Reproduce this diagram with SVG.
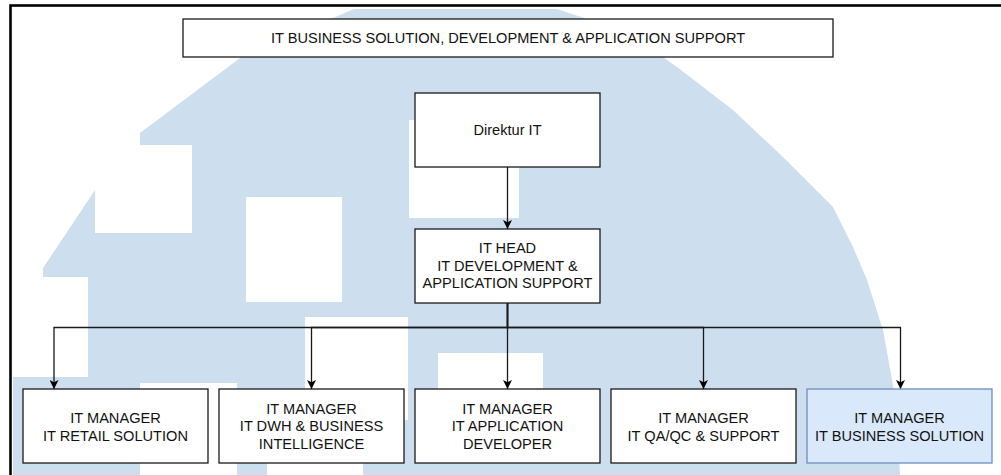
<svg xmlns="http://www.w3.org/2000/svg" width="1001" height="475" viewBox="0 0 1001 475">
  <style>
    .box { fill: #ffffff; stroke: #1a1a1a; stroke-width: 1.3; }
    .hl { fill: #dae8fc; stroke: #6c8ebf; stroke-width: 1.3; }
    .t { font-family: "Liberation Sans", Arial, sans-serif; font-size: 14.6px; fill: #111111; text-anchor: middle; }
    .edge { fill: none; stroke: #1a1a1a; stroke-width: 1.3; }
    .wm { fill: #cddfef; }
    .cut { fill: #ffffff; }
  </style>
  <defs>
    <marker id="arrow" viewBox="0 0 10 10" refX="10" refY="5" markerWidth="9" markerHeight="9" markerUnits="userSpaceOnUse" orient="auto">
      <path d="M0,0 L10,5 L0,10 L2.5,5 Z" fill="#000000"/>
    </marker>
  </defs>

  <rect x="0" y="0" width="1001" height="475" fill="#ffffff"/>

  <g id="watermark">
    <path class="wm" d="M354,9 L557,9 L620,30 L663,57 L677,67 L733,110 L783,157 L833,207 L853,247 L867,280 L883,330 L893,385 L898,425 L900,475 L13,475 L13,377 L88,377 L88,277 L43,277 L43,268 L95,190 L95,233 L192,233 L192,145 L140,145 L140,133 L240,58 Z"/>
    <rect class="cut" x="246" y="197" width="96" height="105"/>
    <rect class="cut" x="305" y="317" width="103" height="103"/>
    <rect class="cut" x="438" y="353" width="105" height="40"/>
    <rect class="cut" x="140" y="383" width="97" height="92"/>
    <rect class="cut" x="267" y="430" width="96" height="45"/>
    <rect class="cut" x="409" y="120" width="110" height="98"/>
  </g>

  <rect x="10.5" y="5.5" width="1000" height="480" fill="none" stroke="#000000" stroke-width="2.6"/>

  <g id="connectors">
    <line class="edge" x1="507.5" y1="167" x2="507.5" y2="229" marker-end="url(#arrow)"/>
    <path class="edge" d="M507.5,303 V327.5 H54 V389" marker-end="url(#arrow)"/>
    <path class="edge" d="M507.5,303 V327.5 H311.5 V389" marker-end="url(#arrow)"/>
    <path class="edge" d="M507.5,303 V389" marker-end="url(#arrow)"/>
    <path class="edge" d="M507.5,303 V327.5 H703.5 V389" marker-end="url(#arrow)"/>
    <path class="edge" d="M507.5,303 V327.5 H900.5 V389" marker-end="url(#arrow)"/>
  </g>

  <g id="title">
    <rect class="box" x="183" y="19" width="650" height="38"/>
    <text class="t" x="508" y="43">IT BUSINESS SOLUTION, DEVELOPMENT &amp; APPLICATION SUPPORT</text>
  </g>

  <g id="direktur">
    <rect class="box" x="415" y="93" width="185" height="74"/>
    <text class="t" x="507.5" y="135">Direktur IT</text>
  </g>

  <g id="head">
    <rect class="box" x="415" y="229" width="185" height="74"/>
    <text class="t" x="507.5" y="253">IT HEAD</text>
    <text class="t" x="507.5" y="270.5">IT DEVELOPMENT &amp;</text>
    <text class="t" x="507.5" y="288">APPLICATION SUPPORT</text>
  </g>

  <g id="mgr-retail">
    <rect class="box" x="23" y="389" width="185" height="74"/>
    <text class="t" x="115.5" y="423">IT MANAGER</text>
    <text class="t" x="115.5" y="441">IT RETAIL SOLUTION</text>
  </g>

  <g id="mgr-dwh">
    <rect class="box" x="219" y="389" width="185" height="74"/>
    <text class="t" x="311.5" y="413.5">IT MANAGER</text>
    <text class="t" x="311.5" y="431">IT DWH &amp; BUSINESS</text>
    <text class="t" x="311.5" y="448.5">INTELLIGENCE</text>
  </g>

  <g id="mgr-appdev">
    <rect class="box" x="415" y="389" width="185" height="74"/>
    <text class="t" x="507.5" y="413.5">IT MANAGER</text>
    <text class="t" x="507.5" y="431">IT APPLICATION</text>
    <text class="t" x="507.5" y="448.5">DEVELOPER</text>
  </g>

  <g id="mgr-qaqc">
    <rect class="box" x="611" y="389" width="185" height="74"/>
    <text class="t" x="703.5" y="423">IT MANAGER</text>
    <text class="t" x="703.5" y="441">IT QA/QC &amp; SUPPORT</text>
  </g>

  <g id="mgr-bizsol">
    <rect class="hl" x="807" y="389" width="185" height="74"/>
    <text class="t" x="899.5" y="423">IT MANAGER</text>
    <text class="t" x="899.5" y="441">IT BUSINESS SOLUTION</text>
  </g>
</svg>
